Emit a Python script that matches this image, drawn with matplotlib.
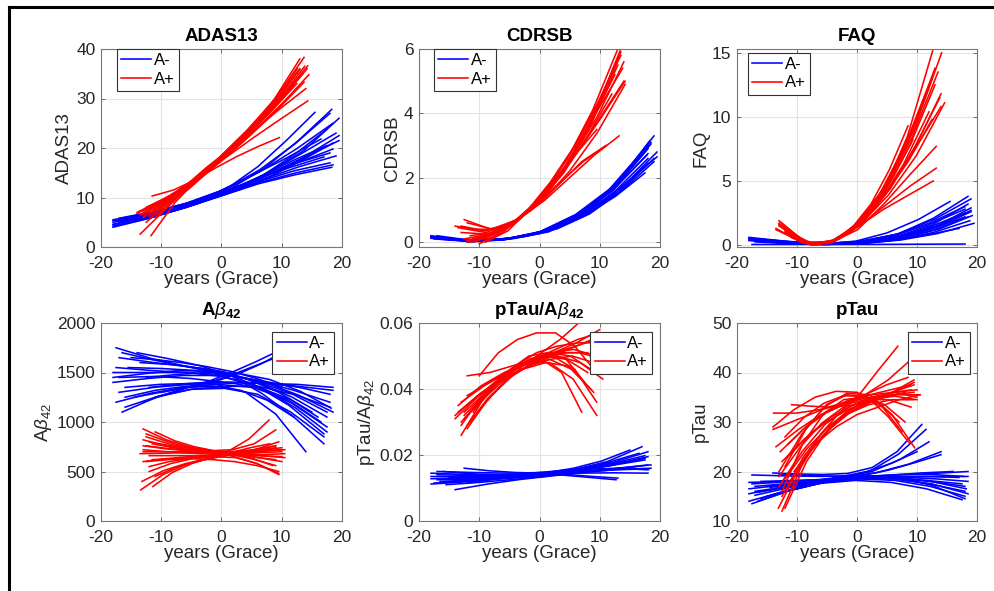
import numpy as np
import matplotlib
matplotlib.use("Agg")
import matplotlib.pyplot as plt
from matplotlib.lines import Line2D

plt.rcParams['font.family'] = ['Liberation Sans', 'DejaVu Sans']
plt.rcParams['mathtext.fontset'] = 'custom'
plt.rcParams['mathtext.rm'] = 'Liberation Sans'
plt.rcParams['mathtext.it'] = 'Liberation Sans:italic'
plt.rcParams['mathtext.bf'] = 'Liberation Sans:bold'

# each curve: (first year, last year, values at evenly spaced years between them)
ADAS13_NEG = [
    (-18, 18.3, [4.0, 5.8, 8.0, 10.4, 12.8, 14.6, 16.1]),
    (-17.5, 18, [4.3, 6.0, 8.1, 10.6, 13.2, 15.4, 17.0]),
    (-18, 19, [4.6, 6.2, 8.3, 10.8, 13.6, 16.2, 18.4]),
    (-17, 18.5, [5.0, 6.5, 8.5, 11.0, 14.0, 17.0, 19.8]),
    (-18, 19.5, [5.3, 6.6, 8.6, 11.1, 14.3, 17.8, 21.5]),
    (-16, 19, [5.6, 6.9, 8.8, 11.3, 14.8, 18.8, 23.0]),
    (-18, 18.5, [5.5, 6.9, 8.8, 11.4, 15.2, 19.8, 25.0]),
    (-17, 18, [5.8, 7.2, 9.0, 11.6, 15.6, 20.8, 27.0]),
    (-15, 18.3, [6.0, 7.4, 9.3, 11.9, 16.0, 21.5, 27.8]),
    (-13, 15.5, [6.4, 7.6, 9.5, 12.1, 16.2, 21.5, 27.2]),
    (-18, 17, [4.5, 6.1, 8.2, 10.7, 13.5, 16.0, 18.2]),
    (-16.5, 19.5, [5.1, 6.6, 8.6, 11.1, 14.4, 18.0, 22.5]),
    (-14, 17.5, [6.2, 7.4, 9.1, 11.4, 14.6, 18.8, 23.8]),
    (-12, 14.5, [6.8, 7.9, 9.3, 11.2, 13.5, 16.0, 18.5]),
    (-18, 18, [5.0, 6.4, 8.4, 10.9, 13.9, 16.8, 19.0]),
    (-10, 18.5, [7.2, 8.6, 10.2, 12.2, 14.8, 17.8, 21.0]),
    (-15.5, 19.5, [5.7, 7.0, 9.0, 11.5, 15.0, 19.5, 26.0]),
    (-17.5, 16.5, [5.2, 6.7, 8.7, 11.2, 14.5, 18.0, 21.8]),
    (-18, 18.5, [4.2, 5.9, 8.0, 10.5, 13.0, 15.0, 16.6]),
    (-16, 17.5, [5.4, 6.8, 8.7, 11.2, 14.2, 17.5, 20.5]),
]
ADAS13_POS = [
    (-13.5, 13, [6.5, 9.5, 13.3, 18.2, 23.5, 29.5, 38.0]),
    (-12, 13.7, [6.8, 10.3, 14.6, 19.2, 24.5, 30.8, 38.3]),
    (-11, 14.3, [7.8, 11.5, 16.0, 20.0, 25.0, 30.5, 36.6]),
    (-13, 14.3, [6.5, 9.8, 13.8, 18.0, 22.0, 25.8, 29.5]),
    (-12.5, 12.5, [8.0, 10.5, 14.0, 18.0, 22.5, 27.5, 33.0]),
    (-11.5, 9.6, [10.3, 11.5, 13.5, 16.0, 18.3, 20.3, 22.1]),
    (-13.5, 13.5, [2.6, 8.0, 13.2, 18.2, 23.2, 28.8, 35.0]),
    (-11.7, 12.2, [2.3, 9.0, 14.0, 18.8, 23.5, 28.3, 33.5]),
    (-14, 13.7, [6.8, 9.5, 12.5, 17.3, 22.2, 27.5, 33.3]),
    (-10, 13, [8.8, 12.0, 15.8, 20.0, 24.8, 30.0, 36.0]),
    (-12, 14.5, [6.2, 10.0, 14.3, 18.8, 23.8, 29.0, 34.8]),
    (-9, 12.5, [9.5, 12.8, 16.3, 20.0, 24.3, 29.0, 35.2]),
    (-13, 10, [6.0, 8.8, 11.8, 16.3, 20.5, 25.0, 30.0]),
    (-12.5, 13, [5.0, 9.5, 14.0, 18.6, 23.6, 29.3, 35.8]),
    (-10.5, 14.2, [7.5, 11.5, 15.6, 20.0, 24.8, 30.0, 36.0]),
    (-13, 12, [7.0, 9.8, 13.3, 17.5, 22.0, 27.0, 32.5]),
    (-12, 11, [8.2, 10.3, 13.3, 17.0, 21.0, 25.5, 30.0]),
    (-14, 12.6, [7.0, 9.7, 13.0, 17.5, 22.5, 28.5, 36.0]),
    (-11, 13.8, [6.0, 10.8, 15.0, 19.5, 24.5, 30.0, 36.5]),
    (-12.5, 14, [7.3, 10.5, 14.4, 18.8, 23.3, 27.8, 32.0]),
]

CDRSB_NEG = [
    (-18, 18, [0.12, 0.03, 0.07, 0.27, 0.72, 1.42, 2.45]),
    (-18, 18, [0.15, 0.04, 0.08, 0.30, 0.80, 1.58, 2.75]),
    (-18, 18, [0.20, 0.05, 0.09, 0.32, 0.86, 1.70, 3.00]),
    (-17, 19, [0.10, 0.04, 0.12, 0.36, 0.92, 1.85, 3.30]),
    (-15, 19.5, [0.06, 0.05, 0.16, 0.43, 0.95, 1.75, 2.65]),
    (-12, 17.5, [0.00, 0.06, 0.20, 0.45, 0.85, 1.42, 2.15]),
    (-18, 17, [0.18, 0.04, 0.08, 0.28, 0.75, 1.55, 2.80]),
    (-16, 18.5, [0.12, 0.05, 0.12, 0.35, 0.90, 1.75, 3.05]),
    (-17, 19.5, [0.15, 0.04, 0.11, 0.33, 0.85, 1.65, 2.80]),
    (-14, 18, [0.08, 0.06, 0.15, 0.38, 0.88, 1.72, 2.90]),
    (-18, 18.5, [0.18, 0.05, 0.09, 0.31, 0.82, 1.65, 3.10]),
    (-17.5, 18, [0.10, 0.03, 0.08, 0.29, 0.76, 1.50, 2.60]),
    (-16, 19, [0.10, 0.04, 0.11, 0.32, 0.80, 1.55, 2.60]),
    (-18, 17.8, [0.14, 0.04, 0.08, 0.29, 0.78, 1.55, 2.70]),
    (-13, 19, [0.05, 0.07, 0.18, 0.42, 0.88, 1.60, 2.50]),
    (-17, 18.3, [0.20, 0.05, 0.10, 0.33, 0.86, 1.72, 3.15]),
]
CDRSB_POS = [
    (-14, 13.5, [0.50, 0.35, 0.55, 1.25, 2.35, 3.90, 6.0]),
    (-12.5, 14, [0.70, 0.40, 0.70, 1.45, 2.55, 3.90, 5.6]),
    (-12, 13, [0.00, 0.15, 0.65, 1.45, 2.60, 4.10, 6.0]),
    (-11, 14, [0.00, 0.30, 0.85, 1.65, 2.65, 3.80, 5.0]),
    (-12, 12, [0.05, 0.20, 0.60, 1.25, 2.15, 3.30, 4.6]),
    (-13, 11, [0.50, 0.35, 0.55, 1.05, 1.75, 2.50, 3.0]),
    (-10, 13.5, [-0.05, 0.30, 0.95, 1.85, 2.95, 4.30, 5.8]),
    (-11.5, 13.2, [0.40, 0.40, 0.75, 1.30, 2.00, 2.70, 3.3]),
    (-12.5, 12.5, [0.10, 0.25, 0.65, 1.35, 2.35, 3.65, 5.2]),
    (-9, 13.5, [0.00, 0.35, 1.05, 1.95, 3.00, 4.30, 5.9]),
    (-13, 13, [0.30, 0.25, 0.60, 1.30, 2.30, 3.70, 5.5]),
    (-11, 9.5, [0.10, 0.25, 0.60, 1.15, 1.90, 2.75, 3.5]),
    (-10, 14.2, [0.10, 0.40, 0.95, 1.75, 2.75, 3.85, 5.0]),
    (-12, 11.1, [0.05, 0.25, 0.60, 1.20, 1.85, 2.50, 3.0]),
    (-11.5, 12.5, [0.20, 0.30, 0.70, 1.40, 2.40, 3.70, 5.4]),
    (-8.5, 13, [0.40, 0.55, 1.00, 1.75, 2.80, 4.10, 5.7]),
    (-13.5, 14.2, [0.45, 0.30, 0.60, 1.25, 2.20, 3.40, 4.9]),
    (-12, 13.8, [0.60, 0.40, 0.70, 1.45, 2.60, 4.05, 5.4]),
]

FAQ_NEG = [
    (-18, 18, [0.50, 0.25, 0.08, 0.20, 0.70, 1.70, 3.0]),
    (-18, 18, [0.40, 0.18, 0.05, 0.15, 0.55, 1.40, 2.5]),
    (-18, 19, [0.60, 0.30, 0.10, 0.30, 0.85, 2.00, 3.6]),
    (-17, 19.5, [0.30, 0.15, 0.05, 0.15, 0.40, 0.90, 1.7]),
    (-16, 15.5, [0.45, 0.25, 0.12, 0.30, 0.95, 2.00, 3.4]),
    (-17, 18, [0.25, 0.12, 0.05, 0.20, 0.55, 1.20, 2.2]),
    (-18, 18, [0.55, 0.28, 0.10, 0.25, 0.75, 1.60, 2.8]),
    (-17.5, 18, [0.05, 0.05, 0.05, 0.05, 0.06, 0.07, 0.08]),
    (-15, 19, [0.30, 0.15, 0.08, 0.25, 0.70, 1.50, 2.9]),
    (-18, 17, [0.35, 0.15, 0.05, 0.10, 0.35, 0.75, 1.3]),
    (-12, 19, [0.20, 0.10, 0.12, 0.30, 0.75, 1.50, 2.6]),
    (-16, 18.5, [0.40, 0.20, 0.10, 0.30, 0.90, 2.10, 3.8]),
    (-17.5, 19, [0.45, 0.22, 0.07, 0.18, 0.60, 1.40, 2.7]),
    (-16.5, 18.5, [0.35, 0.16, 0.06, 0.16, 0.50, 1.15, 2.2]),
    (-18, 18.5, [0.50, 0.24, 0.08, 0.22, 0.65, 1.55, 3.2]),
    (-14, 19.2, [0.25, 0.10, 0.08, 0.22, 0.60, 1.25, 2.3]),
    (-17, 18.8, [0.30, 0.14, 0.05, 0.12, 0.40, 1.00, 1.9]),
]
FAQ_POS = [
    (-13, 12.7, [1.9, 0.25, 0.15, 1.4, 3.9, 8.5, 15.3]),
    (-12.5, 14.1, [1.5, 0.15, 0.35, 1.9, 4.8, 9.2, 15.0]),
    (-13.5, 14.6, [1.2, 0.15, 0.20, 1.6, 3.9, 7.0, 11.1]),
    (-12, 14, [1.0, 0.05, 0.45, 2.0, 4.4, 7.5, 10.8]),
    (-11.5, 12.5, [0.8, 0.00, 0.40, 1.7, 3.8, 6.5, 9.8]),
    (-13, 13.2, [1.6, 0.15, 0.25, 1.4, 3.0, 4.6, 6.0]),
    (-12, 12.7, [1.2, 0.05, 0.35, 1.5, 2.8, 3.9, 5.0]),
    (-11, 9.3, [0.6, 0.00, 0.30, 1.2, 2.8, 5.2, 8.2]),
    (-13, 12, [1.7, 0.20, 0.20, 1.4, 3.9, 7.6, 12.5]),
    (-12, 13, [1.3, 0.10, 0.35, 1.9, 4.6, 8.6, 13.8]),
    (-10, 8.5, [0.4, 0.00, 0.35, 1.4, 3.2, 5.9, 9.3]),
    (-12.5, 13.5, [1.4, 0.10, 0.30, 1.8, 4.5, 8.4, 13.5]),
    (-11, 14, [0.9, 0.00, 0.55, 2.1, 4.5, 7.8, 11.8]),
    (-13, 13.2, [1.5, 0.12, 0.20, 1.2, 3.2, 5.5, 7.7]),
    (-12, 13, [1.1, 0.05, 0.30, 1.7, 4.2, 7.8, 12.5]),
    (-12.8, 12.5, [1.8, 0.20, 0.25, 1.5, 4.0, 7.8, 13.0]),
    (-11.5, 13.8, [1.0, 0.00, 0.45, 1.9, 4.3, 7.6, 11.5]),
    (-13.5, 12, [1.3, 0.20, 0.10, 1.1, 3.2, 6.3, 10.4]),
]

AB42_NEG = [
    (-17.5, 18, [1750, 1640, 1560, 1500, 1400, 1280, 1150]),
    (-17, 18.5, [1450, 1460, 1440, 1400, 1390, 1380, 1350]),
    (-16.5, 17.5, [1100, 1250, 1330, 1360, 1360, 1280, 1100]),
    (-18, 17, [1400, 1440, 1470, 1470, 1380, 1170, 880]),
    (-16, 14, [1250, 1320, 1360, 1380, 1300, 1080, 700]),
    (-14, 17, [1700, 1640, 1570, 1470, 1290, 1060, 780]),
    (-17.5, 17.5, [1550, 1520, 1500, 1460, 1360, 1190, 950]),
    (-13, 9.5, [1200, 1280, 1350, 1420, 1510, 1610, 1720]),
    (-15, 10, [1650, 1630, 1600, 1560, 1510, 1440, 1350]),
    (-18, 18, [1500, 1500, 1500, 1480, 1420, 1320, 1200]),
    (-12, 16, [1350, 1380, 1400, 1390, 1340, 1230, 1050]),
    (-16, 18.5, [1350, 1380, 1390, 1400, 1390, 1360, 1320]),
    (-17, 17.5, [1650, 1600, 1560, 1510, 1400, 1250, 1050]),
    (-14.5, 12, [1250, 1300, 1350, 1360, 1320, 1220, 1050]),
    (-18, 15, [1450, 1490, 1520, 1510, 1440, 1300, 1100]),
    (-15.5, 18.5, [1550, 1540, 1520, 1480, 1400, 1270, 1100]),
    (-10, 10, [1300, 1340, 1380, 1430, 1500, 1590, 1700]),
    (-16, 17, [1150, 1260, 1330, 1340, 1280, 1100, 850]),
    (-17, 18, [1300, 1350, 1380, 1400, 1400, 1360, 1280]),
    (-13.5, 17.5, [1600, 1580, 1540, 1460, 1330, 1140, 900]),
    (-17.5, 16.5, [1200, 1290, 1350, 1380, 1350, 1230, 1000]),
    (-12.5, 18.2, [1450, 1480, 1500, 1490, 1430, 1310, 1140]),
    (-16.5, 13, [1700, 1630, 1570, 1510, 1450, 1400, 1350]),
    (-11, 9, [1250, 1310, 1370, 1420, 1490, 1570, 1650]),
]
AB42_POS = [
    (-13, 10, [930, 820, 750, 710, 680, 640, 600]),
    (-13.4, 9, [314, 470, 570, 630, 670, 710, 760]),
    (-11.4, 8, [348, 490, 580, 640, 690, 740, 780]),
    (-13, 10.5, [700, 700, 700, 700, 700, 710, 720]),
    (-12.5, 9.5, [850, 780, 730, 700, 650, 580, 480]),
    (-12, 7.9, [550, 600, 630, 660, 710, 830, 1020]),
    (-13, 9, [760, 730, 710, 690, 670, 645, 620]),
    (-11.5, 9.5, [620, 630, 640, 650, 680, 730, 800]),
    (-13, 10, [600, 630, 650, 660, 665, 660, 650]),
    (-12, 9, [800, 760, 730, 700, 670, 620, 560]),
    (-13.5, 10.5, [680, 685, 690, 690, 680, 660, 640]),
    (-11, 9, [450, 540, 600, 640, 680, 710, 740]),
    (-12.5, 9, [880, 800, 740, 710, 720, 780, 920]),
    (-13, 10, [720, 700, 685, 675, 680, 700, 720]),
    (-12, 9.5, [500, 580, 630, 650, 640, 580, 470]),
    (-11.5, 10, [780, 740, 710, 690, 695, 715, 740]),
    (-12.5, 10.5, [760, 730, 710, 695, 680, 670, 680]),
    (-13.2, 8.5, [400, 510, 580, 630, 670, 700, 730]),
    (-12, 10, [660, 660, 660, 665, 675, 690, 700]),
    (-11, 8.5, [900, 810, 750, 710, 670, 630, 560]),
    (-12.5, 9.5, [600, 620, 630, 620, 600, 560, 500]),
    (-13, 9, [820, 760, 720, 700, 700, 720, 760]),
]

RATIO_NEG = [
    (-18, 18, [0.0135, 0.0133, 0.0134, 0.0140, 0.0148, 0.0158, 0.0170]),
    (-17.5, 17, [0.0115, 0.0122, 0.0131, 0.0138, 0.0155, 0.0180, 0.0225]),
    (-16, 18, [0.0150, 0.0142, 0.0140, 0.0146, 0.0158, 0.0178, 0.0210]),
    (-14, 18.5, [0.0095, 0.0112, 0.0126, 0.0137, 0.0148, 0.0156, 0.0160]),
    (-12.5, 13, [0.0160, 0.0152, 0.0147, 0.0145, 0.0141, 0.0135, 0.0130]),
    (-17, 17.5, [0.0125, 0.0127, 0.0132, 0.0139, 0.0152, 0.0168, 0.0190]),
    (-18, 16, [0.0145, 0.0141, 0.0140, 0.0143, 0.0147, 0.0154, 0.0165]),
    (-15.5, 18, [0.0110, 0.0117, 0.0126, 0.0136, 0.0152, 0.0172, 0.0195]),
    (-13, 15, [0.0125, 0.0130, 0.0137, 0.0146, 0.0160, 0.0182, 0.0215]),
    (-17, 18, [0.0140, 0.0138, 0.0139, 0.0142, 0.0145, 0.0146, 0.0145]),
    (-16.5, 17.5, [0.0120, 0.0124, 0.0132, 0.0140, 0.0153, 0.0168, 0.0185]),
    (-12, 18, [0.0115, 0.0128, 0.0140, 0.0148, 0.0157, 0.0160, 0.0155]),
    (-18, 17.5, [0.0128, 0.0130, 0.0134, 0.0139, 0.0150, 0.0168, 0.0190]),
    (-17, 18.5, [0.0150, 0.0147, 0.0145, 0.0147, 0.0150, 0.0158, 0.0170]),
    (-16, 16.5, [0.0118, 0.0123, 0.0131, 0.0138, 0.0153, 0.0176, 0.0205]),
    (-18, 18.2, [0.0112, 0.0119, 0.0128, 0.0136, 0.0147, 0.0155, 0.0158]),
    (-15, 17.5, [0.0132, 0.0135, 0.0141, 0.0149, 0.0158, 0.0174, 0.0198]),
    (-13.5, 12.7, [0.0135, 0.0136, 0.0138, 0.0141, 0.0139, 0.0132, 0.0125]),
]
RATIO_POS = [
    (-14, 9.5, [0.031, 0.038, 0.044, 0.048, 0.048, 0.043, 0.032]),
    (-13, 7, [0.026, 0.036, 0.043, 0.047, 0.049, 0.045, 0.033]),
    (-12.5, 9, [0.033, 0.039, 0.044, 0.047, 0.049, 0.050, 0.048]),
    (-12, 10.5, [0.044, 0.045, 0.047, 0.049, 0.050, 0.048, 0.043]),
    (-10, 9, [0.044, 0.051, 0.055, 0.057, 0.057, 0.053, 0.046]),
    (-13.5, 9.5, [0.035, 0.041, 0.045, 0.048, 0.051, 0.052, 0.050]),
    (-12, 8, [0.029, 0.037, 0.043, 0.047, 0.050, 0.051, 0.051]),
    (-11.5, 9.5, [0.030, 0.038, 0.044, 0.048, 0.051, 0.053, 0.055]),
    (-13, 10, [0.036, 0.041, 0.045, 0.048, 0.051, 0.054, 0.058]),
    (-12, 6.5, [0.028, 0.036, 0.042, 0.047, 0.051, 0.055, 0.060]),
    (-14, 8.5, [0.032, 0.038, 0.043, 0.046, 0.048, 0.047, 0.040]),
    (-12.5, 9.5, [0.032, 0.039, 0.045, 0.049, 0.050, 0.046, 0.036]),
    (-11, 10, [0.034, 0.041, 0.047, 0.051, 0.053, 0.054, 0.054]),
    (-13, 9, [0.030, 0.037, 0.043, 0.047, 0.049, 0.046, 0.039]),
    (-12, 8.5, [0.035, 0.040, 0.045, 0.049, 0.051, 0.050, 0.046]),
    (-13.5, 10, [0.033, 0.039, 0.043, 0.047, 0.050, 0.053, 0.056]),
    (-12.5, 10.5, [0.031, 0.039, 0.045, 0.049, 0.051, 0.051, 0.049]),
    (-11, 7.5, [0.033, 0.041, 0.046, 0.050, 0.051, 0.049, 0.042]),
    (-13, 8, [0.029, 0.038, 0.044, 0.048, 0.050, 0.049, 0.045]),
    (-12, 10, [0.038, 0.042, 0.046, 0.049, 0.052, 0.055, 0.057]),
]

PTAU_NEG = [
    (-17.5, 18, [13.5, 16.0, 17.8, 18.6, 18.5, 17.5, 16.0]),
    (-17, 18.5, [17.0, 17.6, 18.3, 19.0, 19.3, 19.6, 20.0]),
    (-14, 10.8, [19.7, 19.5, 19.4, 19.6, 20.8, 24.0, 29.5]),
    (-18, 17.5, [16.5, 17.3, 18.0, 18.5, 18.6, 18.2, 17.5]),
    (-16, 11.5, [14.5, 16.3, 17.7, 18.7, 20.2, 23.5, 28.5]),
    (-17.5, 18, [19.3, 19.1, 19.0, 19.2, 18.8, 18.0, 17.0]),
    (-15, 18, [15.0, 16.8, 18.2, 19.0, 18.8, 17.2, 14.5]),
    (-12, 14, [16.0, 17.2, 18.3, 19.2, 20.3, 21.8, 23.4]),
    (-17.5, 17, [17.5, 17.9, 18.3, 18.8, 19.0, 19.0, 18.8]),
    (-18, 14, [15.5, 16.8, 17.9, 18.8, 19.8, 21.5, 24.0]),
    (-13, 18.5, [19.5, 19.2, 19.0, 19.0, 18.8, 18.5, 18.0]),
    (-16.5, 16, [14.0, 16.2, 17.8, 18.7, 19.2, 19.7, 20.0]),
    (-17, 18, [16.0, 17.0, 18.0, 18.5, 18.2, 17.0, 15.0]),
    (-15, 10, [17.0, 17.5, 18.2, 19.0, 20.0, 21.7, 24.0]),
    (-18, 17.5, [14.0, 16.0, 17.6, 18.2, 17.8, 16.5, 14.3]),
    (-16, 18.5, [18.0, 18.2, 18.4, 18.7, 18.9, 19.0, 19.0]),
    (-17, 18.2, [15.2, 16.8, 18.0, 18.8, 18.8, 18.0, 16.5]),
    (-14.5, 17.8, [16.8, 17.5, 18.3, 19.0, 19.4, 19.4, 19.0]),
    (-16.5, 12, [15.8, 16.8, 17.8, 18.8, 20.0, 22.5, 26.0]),
    (-18, 18.5, [17.8, 18.0, 18.4, 18.8, 18.5, 17.5, 15.5]),
]
PTAU_POS = [
    (-14, 10.5, [28.5, 30.5, 32.5, 34.0, 35.0, 35.5, 35.5]),
    (-12.5, 6.8, [12.0, 21.0, 27.5, 32.0, 35.5, 40.5, 45.3]),
    (-12, 9.5, [12.6, 22.0, 28.5, 32.5, 34.5, 35.5, 36.0]),
    (-13, 9.6, [20.0, 27.5, 33.0, 35.8, 35.5, 31.5, 24.8]),
    (-10.9, 8, [33.5, 33.2, 33.0, 33.3, 34.0, 35.0, 36.0]),
    (-12.5, 9.5, [22.0, 26.5, 30.0, 32.5, 34.3, 36.0, 37.5]),
    (-13, 10, [17.0, 24.0, 29.5, 33.0, 35.0, 36.0, 36.5]),
    (-12, 8.7, [21.0, 28.5, 33.5, 35.5, 35.0, 31.0, 25.8]),
    (-13.9, 9, [31.8, 31.8, 32.5, 33.8, 35.5, 38.5, 42.6]),
    (-12, 9.5, [18.5, 24.5, 29.0, 32.0, 34.0, 36.0, 38.5]),
    (-11.5, 10, [23.0, 27.5, 31.0, 33.3, 34.8, 35.2, 34.5]),
    (-13.5, 9, [25.0, 28.5, 31.5, 33.5, 34.5, 34.5, 33.0]),
    (-11, 9.5, [18.0, 24.5, 29.0, 32.3, 34.5, 36.0, 38.0]),
    (-12.5, 9, [15.0, 23.0, 28.5, 32.0, 34.3, 35.8, 36.5]),
    (-12, 7.5, [27.0, 31.0, 33.8, 35.3, 35.2, 33.0, 28.0]),
    (-13, 8.5, [19.0, 25.0, 29.8, 33.0, 35.5, 37.5, 39.0]),
    (-10.5, 10.5, [20.0, 25.5, 29.0, 31.5, 33.0, 34.5, 35.5]),
    (-13.1, 9.5, [12.6, 21.5, 27.5, 31.5, 33.5, 34.5, 34.5]),
    (-11.5, 9, [25.5, 29.5, 32.5, 34.5, 35.5, 36.5, 37.5]),
    (-12.8, 10, [24.0, 28.5, 31.8, 34.0, 35.5, 36.0, 35.0]),
    (-14, 7, [29.0, 32.5, 35.0, 36.2, 36.0, 34.0, 30.0]),
    (-12.5, 8, [16.0, 25.5, 31.5, 34.5, 35.0, 33.5, 30.0]),
]

TITLES = ['ADAS13', 'CDRSB', 'FAQ',
          r'A$\beta_{\mathbf{42}}$', r'pTau/A$\beta_{\mathbf{42}}$', 'pTau']
YLABELS = ['ADAS13', 'CDRSB', 'FAQ', r'A$\beta_{42}$', r'pTau/A$\beta_{42}$', 'pTau']
YLIMS = [(0, 40), (-0.15, 6), (-0.15, 15.3), (0, 2000), (0, 0.06), (10, 50)]
YTICKS = [[0, 10, 20, 30, 40], [0, 2, 4, 6], [0, 5, 10, 15],
          [0, 500, 1000, 1500, 2000], [0, 0.02, 0.04, 0.06], [10, 20, 30, 40, 50]]
YTICKLABELS = [['0', '10', '20', '30', '40'], ['0', '2', '4', '6'], ['0', '5', '10', '15'],
               ['0', '500', '1000', '1500', '2000'], ['0', '0.02', '0.04', '0.06'],
               ['10', '20', '30', '40', '50']]
XTICKS = [-20, -10, 0, 10, 20]
CURVES = [(ADAS13_NEG, ADAS13_POS), (CDRSB_NEG, CDRSB_POS), (FAQ_NEG, FAQ_POS),
          (AB42_NEG, AB42_POS), (RATIO_NEG, RATIO_POS), (PTAU_NEG, PTAU_POS)]

# axes boxes in pixels: left, top, width, height
W, H = 995, 591
BOXES = [(101, 49, 241, 198), (419, 49, 241, 198), (737, 49, 240, 198),
         (101, 323, 241, 198), (419, 323, 241, 198), (737, 323, 240, 198)]
LEG = [('upper left', (0.066, 1.0)), ('upper left', (0.062, 1.0)), ('upper left', (0.046, 0.98)),
       ('upper right', (0.967, 0.955)), ('upper right', (0.967, 0.955)), ('upper right', (0.971, 0.955))]

fig = plt.figure(figsize=(W / 100, H / 100), dpi=100)
ink = '#262626'

for i in range(6):
    l, t, w, h = BOXES[i]
    ax = fig.add_axes([l / W, 1 - (t + h) / H, w / W, h / H])
    neg, pos = CURVES[i]
    for k, (x0, x1, ys) in enumerate(neg):
        ax.plot(np.linspace(x0, x1, len(ys)), ys, color=(0, 0, 1), lw=1.15,
                label='A-' if k == 0 else None)
    for k, (x0, x1, ys) in enumerate(pos):
        ax.plot(np.linspace(x0, x1, len(ys)), ys, color=(1, 0, 0), lw=1.15,
                label='A+' if k == 0 else None)

    ax.set_xlim(-20, 20)
    ax.set_ylim(*YLIMS[i])
    ax.set_xticks(XTICKS)
    ax.set_xticklabels([str(v) for v in XTICKS])
    ax.set_yticks(YTICKS[i])
    ax.set_yticklabels(YTICKLABELS[i])
    ax.grid(True, color='#e3e3e3', lw=0.8)
    ax.set_axisbelow(True)
    ax.tick_params(direction='in', length=3, width=0.6, colors='#555555',
                   labelcolor=ink, labelsize=12.5, top=True, right=True)
    ax.tick_params(axis='x', pad=6.5)
    ax.tick_params(axis='y', pad=4)
    for s in ax.spines.values():
        s.set_color('#777777')
        s.set_linewidth(0.8)

    ax.set_title(TITLES[i], fontsize=13.5, fontweight='bold', pad=6)
    ax.set_xlabel('years (Grace)', fontsize=13.5, color=ink, labelpad=0)
    ax.set_ylabel(YLABELS[i], fontsize=13.5, color=ink, labelpad=2)

    loc, anchor = LEG[i]
    lg = ax.legend(loc=loc, bbox_to_anchor=anchor, borderaxespad=0, fontsize=12,
                   fancybox=False, framealpha=1, edgecolor='#333333',
                   borderpad=0.25, labelspacing=0.2, handlelength=1.8, handletextpad=0.15)
    lg.get_frame().set_linewidth(0.8)

# black frame on the left and top of the picture
fig.add_artist(Line2D([9 / W, 9 / W], [0, 1 - 7 / H], transform=fig.transFigure, color='k', lw=2.2))
fig.add_artist(Line2D([9 / W, 1], [1 - 7 / H, 1 - 7 / H], transform=fig.transFigure, color='k', lw=2.2))

fig.savefig('out.png', dpi=100)
